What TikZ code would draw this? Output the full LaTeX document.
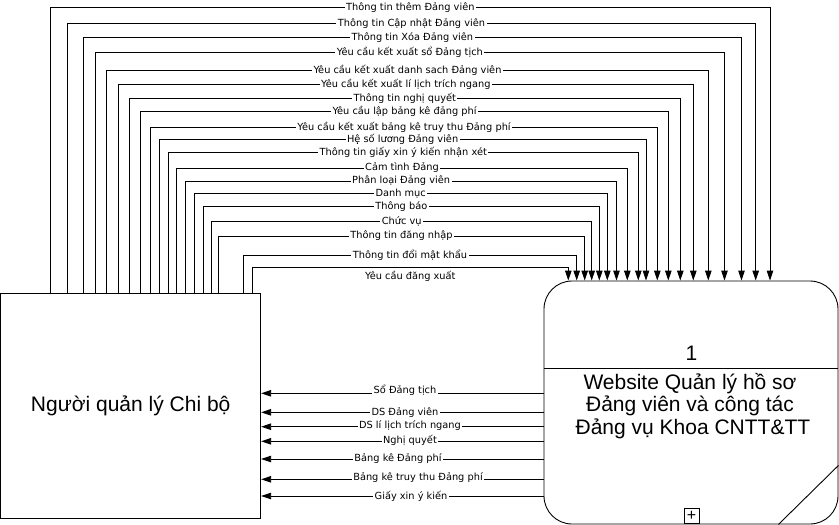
\documentclass[tikz,border=0pt]{standalone}
\usepackage{fontspec}
\setmainfont{Liberation Sans}
\newfontfamily\lblfont{DejaVu Sans}
\usetikzlibrary{arrows.meta, positioning, calc}

\begin{document}
\begin{tikzpicture}[x=1pt, y=-1pt, line width=0.9pt,
    flow/.style={draw=black, -{Triangle[length=10pt, width=6.5pt]}},
    flowlabel/.style={font=\lblfont\fontsize{9.8}{11}\selectfont, fill=white, inner sep=1.5pt},
    bigtext/.style={font=\fontsize{21}{22.5}\selectfont},
    entity/.style={draw, minimum width=260pt, minimum height=225pt, bigtext},
    procbox/.style={draw, rounded corners=28pt, minimum width=294pt, minimum height=243pt}]

      \useasboundingbox (0,0) rectangle (839,525);

      % External entity and process
      \node[entity] (qlcb) at (130.7,405.5) {Người quản lý Chi bộ};
      \node[procbox] (web) at (691,402.5) {};
      \coordinate (divy) at (0,368);
      \draw (web.west |- divy) -- (web.east |- divy);
      \node[bigtext] (num) at (691.5,353) {1};
      \node[bigtext, align=center, inner sep=0pt] (title) at (690,406)
        {Website Quản lý hồ sơ\\Đảng viên và công tác\\\ Đảng vụ Khoa CNTT\&TT};
      \node[draw, line width=0.7pt, minimum size=15pt, inner sep=0pt,
        font=\fontsize{16}{16}\selectfont] (plus) at (691.5,516) {+};
      \draw ($(web.south east)+(-60,0)$) -- ($(web.south east)+(0,-59)$);

      % Flows into the process
      \foreach \xl/\xr/\yy/\txt [count=\i] in {
        50.7/770/7.3/Thông tin thêm Đảng viên,
        67.3/755.7/23.3/Thông tin Cập nhật Đảng viên,
        83.3/741.5/37.3/Thông tin Xóa Đảng viên,
        95.3/724.5/52.3/Yêu cầu kết xuất sổ Đảng tịch,
        106.7/708.3/70/Yêu cầu kết xuất danh sach Đảng viên,
        118.3/693.3/84.3/Yêu cầu kết xuất lí lịch trích ngang,
        129.3/680.3/98.3/Thông tin nghị quyết,
        140.7/668.3/111.7/Yêu cầu lập bảng kê đảng phí,
        150.7/657.3/127.3/Yêu cầu kết xuất bảng kê truy thu Đảng phí,
        159.3/646/139/Hệ số lương Đảng viên,
        168.3/638.3/152.7/Thông tin giấy xin ý kiến nhận xét,
        176.7/627.3/168/Cảm tình Đảng,
        185.7/616.5/181/Phân loại Đảng viên,
        194/607.3/193.7/Danh mục,
        203.3/599.3/206.7/Thông báo,
        211.7/591.7/221.7/Chức vụ,
        218.3/584.7/236/Thông tin đăng nhập,
        243.3/576.7/255.7/Thông tin đổi mật khẩu}
      {
        \draw[flow] (qlcb.north -| \xl,0) -- (\xl,\yy)
          -- (\xr,\yy) node[flowlabel, midway] (in\i) {\txt}
          -- (web.north -| \xr,0);
      }
      \draw[flow] (qlcb.north -| 252.3,0) -- (252.3,267.3)
        -- (568.3,267.3) node[flowlabel, midway, below=1.5pt] (in19) {Yêu cầu đăng xuất}
        -- (web.north -| 568.3,0);

      % Flows back to the entity
      \foreach \yy/\lx/\ly/\txt [count=\i] in {
        393.3/405/390/Sổ Đảng tịch,
        412.3/405/412.3/DS Đảng viên,
        426.7/410/425.7/DS lí lịch trích ngang,
        441.3/410/440.7/Nghị quyết,
        459/398/459/Bảng kê Đảng phí,
        479.3/418/477.7/Bảng kê truy thu Đảng phí,
        496/411/496/Giấy xin ý kiến}
      {
        \draw[flow] (web.west |- 0,\yy) -- (qlcb.east |- 0,\yy);
        \node[flowlabel] (out\i) at (\lx,\ly) {\txt};
      }
    \end{tikzpicture}
\end{document}
